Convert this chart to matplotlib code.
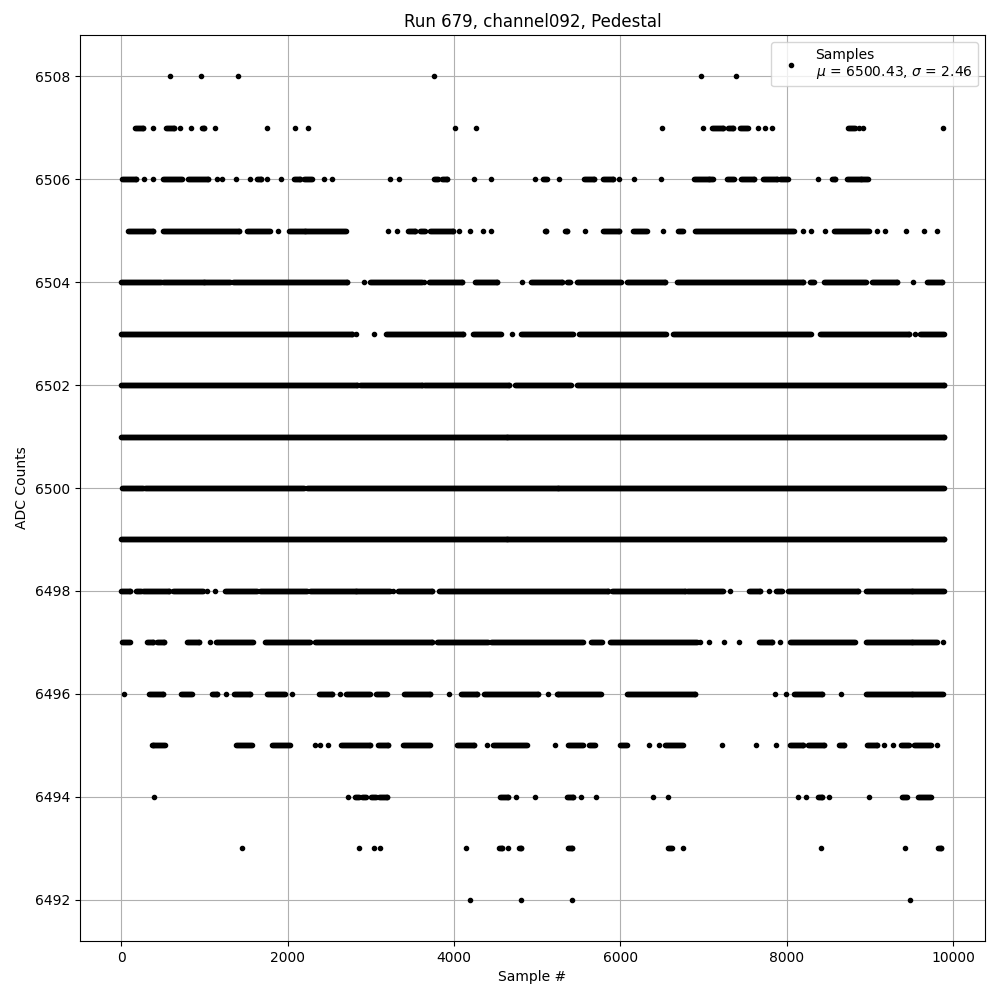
import numpy as np
import matplotlib.pyplot as plt

# sample ranges (first, last) where each ADC value shows up
runs_6508 = [(590, 590), (964, 964), (1410, 1410), (3760, 3760), (6964, 6964), (7386, 7386)]
runs_6507 = [(161, 265), (386, 386), (534, 635), (711, 711), (843, 843), (968, 996), (1132, 1132),
             (1759, 1759), (2084, 2084), (2241, 2241), (4012, 4012), (4265, 4265), (6506, 6506),
             (6988, 6988), (7100, 7233), (7289, 7353), (7434, 7530), (7651, 7651), (7739, 7739),
             (7823, 7823), (8735, 8815), (8867, 8867), (8920, 8920), (9879, 9879)]
runs_6506 = [(8, 177), (277, 277), (386, 386), (506, 727), (807, 1048), (1157, 1157), (1217, 1217),
             (1381, 1381), (1550, 1550), (1630, 1679), (1759, 1759), (1916, 1916), (2072, 2153),
             (2201, 2293), (2434, 2434), (2530, 2530), (3229, 3229), (3337, 3337), (3759, 3807),
             (3859, 3920), (4241, 4241), (4442, 4442), (4980, 4980), (5072, 5120), (5265, 5265),
             (5562, 5683), (5787, 5908), (5988, 5988), (6169, 6169), (6494, 6494), (6880, 7120),
             (7281, 7361), (7450, 7610), (7711, 7883), (7924, 8012), (8373, 8373), (8546, 8586),
             (8719, 8976)]
runs_6505 = [(84, 386), (506, 1422), (1518, 1791), (1880, 1880), (2012, 2707), (3205, 3205),
             (3317, 3317), (3446, 3538), (3598, 3658), (3711, 3988), (4060, 4060), (4189, 4189),
             (4353, 4353), (4450, 4450), (5092, 5112), (5333, 5361), (5574, 5574), (5787, 5988),
             (6157, 6317), (6518, 6518), (6699, 6759), (6900, 8084), (8197, 8197), (8293, 8293),
             (8462, 8462), (8574, 8988), (9080, 9080), (9177, 9177), (9430, 9430), (9651, 9651),
             (9803, 9803)]
runs_6504 = [(0, 474), (498, 1309), (1341, 2715), (2924, 2924), (2996, 3618), (3646, 3646),
             (3699, 4100), (4249, 4514), (4823, 4823), (4924, 5300), (5361, 5394), (5482, 6004),
             (6076, 6538), (6679, 8197), (8285, 8325), (8446, 8948), (9028, 9329), (9522, 9522),
             (9683, 9871)]
runs_6503 = [(0, 2775), (2819, 2819), (3044, 3044), (3185, 4112), (4233, 4562), (4703, 4703),
             (4811, 5426), (5506, 6550), (6639, 8293), (8398, 9470), (9538, 9538), (9602, 9889)]
runs_6502 = [(0, 2835), (2867, 3618), (3638, 4663), (4735, 5402), (5482, 9889)]
runs_6501 = [(0, 9889)]
runs_6500 = [(16, 257), (285, 2193), (2233, 9889)]
runs_6499 = [(0, 9889)]
runs_6498 = [(0, 112), (177, 233), (265, 578), (627, 980), (1036, 1036), (1128, 1128), (1249, 1630),
             (1671, 2233), (2265, 3237), (3269, 3269), (3325, 3739), (3819, 5855), (5896, 6779),
             (6807, 7233), (7321, 7321), (7542, 7683), (7787, 7787), (7875, 7944), (8012, 8855),
             (8948, 9889)]
runs_6497 = [(16, 104), (305, 378), (426, 514), (795, 940), (1068, 1068), (1140, 1582), (1731, 2265),
             (2333, 3739), (3799, 4410), (4450, 5546), (5643, 5775), (5876, 6920), (6960, 6960),
             (7068, 7068), (7241, 7241), (7422, 7422), (7663, 7823), (7916, 7916), (8036, 8815),
             (8948, 9811), (9880, 9880)]
runs_6496 = [(32, 32), (337, 506), (715, 847), (1088, 1149), (1261, 1261), (1357, 1550), (1759, 1972),
             (2048, 2048), (2373, 2534), (2634, 2634), (2707, 2988), (3068, 3197), (3398, 3711),
             (3940, 3940), (4080, 4273), (4361, 5012), (5133, 5133), (5233, 5763), (6076, 6900),
             (7855, 7855), (7992, 7992), (8084, 8426), (8655, 8655), (8948, 9884)]
runs_6495 = [(365, 526), (1381, 1570), (1811, 2024), (2325, 2325), (2393, 2393), (2482, 2482),
             (2642, 2996), (3084, 3205), (3390, 3711), (4032, 4241), (4402, 4402), (4474, 4875),
             (5213, 5213), (5373, 5546), (5627, 5695), (5996, 6076), (6349, 6349), (6470, 6470),
             (6538, 6751), (7225, 7225), (7626, 7626), (7867, 7867), (8036, 8197), (8253, 8454),
             (8626, 8687), (8960, 9088), (9169, 9169), (9281, 9281), (9378, 9470), (9530, 9731),
             (9803, 9803)]
runs_6494 = [(398, 398), (2723, 2723), (2815, 2855), (2900, 2940), (3000, 3060), (3100, 3197),
             (4554, 4651), (4743, 4743), (4972, 4972), (5361, 5434), (5522, 5522), (5703, 5703),
             (6390, 6390), (6578, 6578), (8133, 8133), (8229, 8229), (8374, 8426), (8506, 8506),
             (8988, 8988), (9390, 9442), (9578, 9731)]
runs_6493 = [(1458, 1458), (2855, 2855), (3036, 3036), (3108, 3108), (4144, 4144), (4542, 4582),
             (4651, 4651), (4783, 4811), (5373, 5422), (6578, 6618), (6759, 6759), (8410, 8410),
             (9422, 9422), (9819, 9859)]
runs_6492 = [(4193, 4193), (4811, 4811), (5422, 5422), (9482, 9482)]

adc_levels = [6508, 6507, 6506, 6505, 6504, 6503, 6502, 6501, 6500,
              6499, 6498, 6497, 6496, 6495, 6494, 6493, 6492]
runs_by_level = [runs_6508, runs_6507, runs_6506, runs_6505, runs_6504, runs_6503, runs_6502,
                 runs_6501, runs_6500, runs_6499, runs_6498, runs_6497, runs_6496, runs_6495,
                 runs_6494, runs_6493, runs_6492]

mu = 6500.43
sigma = 2.46

xs = []
ys = []
for level, runs in zip(adc_levels, runs_by_level):
    for a, b in runs:
        pts = np.append(np.arange(a, b, 12), b)
        xs.append(pts)
        ys.append(np.full(len(pts), level))
xs = np.concatenate(xs)
ys = np.concatenate(ys)

fig, ax = plt.subplots(figsize=(10, 10), dpi=100)
ax.plot(xs, ys, 'k.', label='Samples\n$\\mu$ = %.2f, $\\sigma$ = %.2f' % (mu, sigma))
ax.set_title('Run 679, channel092, Pedestal')
ax.set_xlabel('Sample #')
ax.set_ylabel('ADC Counts')
ax.grid(True)
ax.legend(loc='upper right')
plt.subplots_adjust(left=0.08, right=0.985, top=0.965, bottom=0.059)
plt.savefig('out.png')
